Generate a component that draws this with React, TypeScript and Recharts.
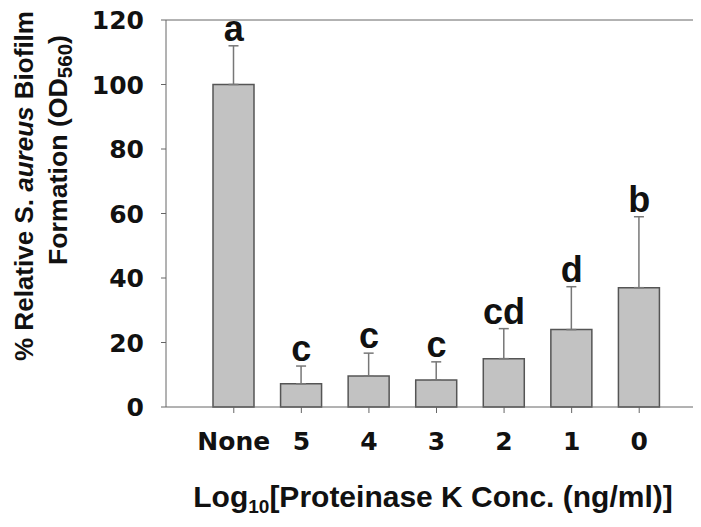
import { Bar, ComposedChart, ErrorBar, LabelList, Line, ReferenceLine, XAxis, YAxis } from "recharts"

const categories = ["None", "5", "4", "3", "2", "1", "0"]
const means = [100, 7.2, 9.6, 8.4, 15, 24, 37]
const errors = [12, 5.5, 7.1, 5.6, 9.3, 13.3, 22]
const letters = ["a", "c", "c", "c", "cd", "d", "b"]
const yTicks = [0, 20, 40, 60, 80, 100, 120]

const data = categories.map((name, i) => ({
  name,
  mean: means[i],
  err: [0, errors[i]],
  top: means[i] + errors[i],
  letter: letters[i],
}))

const FONT = "'Liberation Sans', Arial, sans-serif"
const TICK_FONT = "'DejaVu Sans', sans-serif"
const AXIS = "#666666"

const YTick = (props: any) => (
  <text x={props.x} y={props.y} dy="0.36em" textAnchor="end" fill="#111" fontSize={25} fontWeight="bold" fontFamily={TICK_FONT}>
    {props.payload.value}
  </text>
)

const XTick = (props: any) => (
  <text x={props.x} y={props.y} dy="0.72em" textAnchor="middle" fill="#111" fontSize={25} fontWeight="bold" fontFamily={TICK_FONT}>
    {props.payload.value}
  </text>
)

// axis titles, positions in svg px (svg starts at page 0,8)
const yTitle = () => (
  <g fontFamily={FONT} fontWeight="bold" fontSize={26} fill="#111">
    <text x={25} y={186} transform="rotate(-90, 25, 186)" textAnchor="middle" textLength={350} lengthAdjust="spacingAndGlyphs">
      % Relative S. <tspan fontStyle="italic">aureus</tspan> Biofilm
    </text>
    <text x={59} y={150} transform="rotate(-90, 59, 150)" textAnchor="middle" textLength={230} lengthAdjust="spacingAndGlyphs">
      Formation (OD<tspan fontSize={20} dy={5}>560</tspan>
      <tspan dy={-5}>)</tspan>
    </text>
  </g>
)

const xTitle = () => (
  <text x={425} y={507} textAnchor="middle" fontFamily={FONT} fontWeight="bold" fontSize={30} fill="#111">
    Log<tspan fontSize={19} dy={6}>10</tspan>
    <tspan dy={-6}>[Proteinase K Conc. (ng/ml)]</tspan>
  </text>
)

export default function App() {
  return (
    <div style={{ marginTop: -8 }}>
      <ComposedChart width={693} height={527} data={data} margin={{ top: 20, right: 0, bottom: 0, left: 0 }}>
        <XAxis
          dataKey="name"
          height={120}
          padding={{ left: 34, right: 28 }}
          stroke={AXIS}
          tickSize={6}
          tickMargin={19}
          tick={<XTick />}
          label={{ content: xTitle }}
        />
        <YAxis
          width={158}
          domain={[0, 120]}
          ticks={yTicks}
          stroke={AXIS}
          tickSize={5}
          tickMargin={17}
          tick={<YTick />}
          label={{ content: yTitle }}
        />
        <ReferenceLine y={120} stroke={AXIS} />
        <Bar dataKey="mean" barSize={41} fill="#c2c2c2" stroke="#555" strokeWidth={1.5} isAnimationActive={false}>
          <ErrorBar dataKey="err" width={5} stroke="#777" strokeWidth={1.5} />
        </Bar>
        <Line dataKey="top" stroke="none" dot={false} activeDot={false} legendType="none" isAnimationActive={false}>
          <LabelList dataKey="letter" position="top" offset={5} fill="#111" fontSize={36} fontWeight="bold" fontFamily={FONT} />
        </Line>
      </ComposedChart>
    </div>
  )
}
